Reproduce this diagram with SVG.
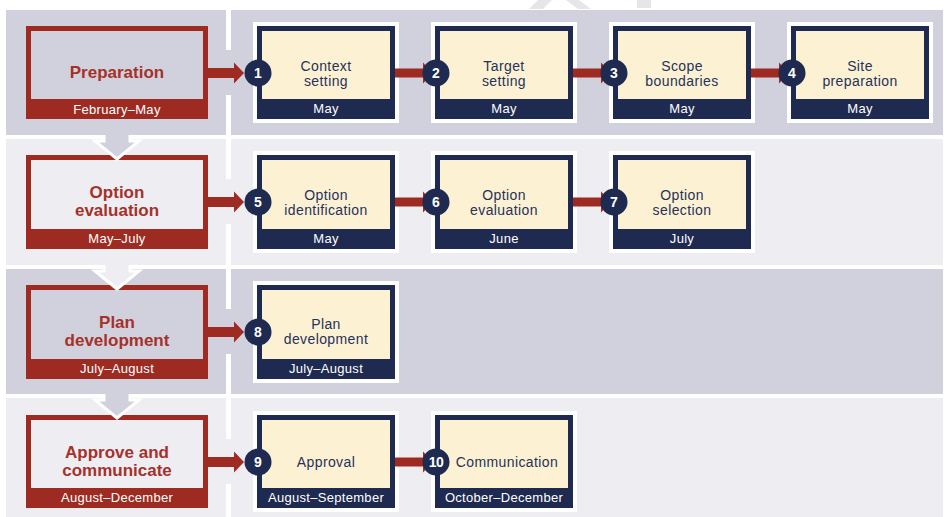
<svg xmlns="http://www.w3.org/2000/svg" width="944" height="517" viewBox="0 0 944 517">
  <style>
    .bandD { fill: #d1d1dd; }
    .bandL { fill: #ededf2; }
    .sep { fill: #ffffff; }
    .red { fill: #9d2b21; }
    .navy { fill: #1e2a50; }
    .cream { fill: #fcf2d3; }
    .frame { fill: #ffffff; }
    .ptitle { font-family: "Liberation Sans", Arial, sans-serif; font-size: 17px; font-weight: bold; fill: #a5312a; text-anchor: middle; }
    .pdate { font-family: "Liberation Sans", Arial, sans-serif; font-size: 13px; letter-spacing: 0.3px; fill: #ffffff; text-anchor: middle; }
    .slabel { font-family: "Liberation Sans", Arial, sans-serif; font-size: 14px; letter-spacing: 0.4px; fill: #27315a; text-anchor: middle; }
    .sdate { font-family: "Liberation Sans", Arial, sans-serif; font-size: 13px; letter-spacing: 0.3px; fill: #ffffff; text-anchor: middle; }
    .num { font-family: "Liberation Sans", Arial, sans-serif; font-size: 14px; font-weight: bold; fill: #ffffff; text-anchor: middle; }
    .arrow { fill: #9d2b21; }
    .chev-stroke { fill: none; stroke: #ffffff; stroke-width: 3; stroke-linejoin: miter; }
    .mark { fill: #e6e6ea; }
  </style>
  <defs>
    <!-- step arrow: shaft from 0 to 28, head tip at 38, centred on y=0 -->
    <path id="stepArrow" d="M0,-4.5 H28 V-10.5 L38,0 L28,10.5 V4.5 H0 Z"/>
    <!-- phase-to-step arrow -->
    <path id="phaseArrow" d="M0,-5 H26 V-10.5 L36,0 L26,10.5 V5 H0 Z"/>
  </defs>

  <rect width="944" height="517" fill="#ffffff"/>

  <!-- faint marks at the top edge -->
  <g id="topmarks">
    <polygon class="mark" points="538,0 552,0 543,9 529,9"/>
    <polygon class="mark" points="566,0 579,0 591,9 578,9"/>
    <polygon class="mark" points="637,0 651,0 651,8 637,8"/>
  </g>

  <!-- row bands -->
  <g id="bands">
    <rect class="bandD" x="6" y="10" width="937" height="125"/>
    <rect class="bandL" x="6" y="139" width="937" height="126"/>
    <rect class="bandD" x="6" y="269" width="937" height="125"/>
    <rect class="bandL" x="6" y="398" width="937" height="119"/>
    <!-- white separators between phase column and step column, open where the arrows pass -->
    <rect class="sep" x="226" y="10" width="5" height="40"/>
    <rect class="sep" x="226" y="95" width="5" height="40"/>
    <rect class="sep" x="226" y="139" width="5" height="40"/>
    <rect class="sep" x="226" y="224" width="5" height="41"/>
    <rect class="sep" x="226" y="269" width="5" height="40"/>
    <rect class="sep" x="226" y="354" width="5" height="40"/>
    <rect class="sep" x="226" y="398" width="5" height="41"/>
    <rect class="sep" x="226" y="484" width="5" height="33"/>
  </g>

  <!-- phase boxes -->
  <g id="phase-preparation">
    <rect class="red" x="26" y="26" width="182" height="93"/>
    <rect class="bandD" x="31" y="31" width="172" height="68"/>
    <text class="ptitle" x="117" y="78">Preparation</text>
    <text class="pdate" x="117" y="113.5">February–May</text>
  </g>
  <g id="phase-option-evaluation">
    <rect class="red" x="26" y="155" width="182" height="94"/>
    <rect class="bandL" x="31" y="160" width="172" height="69"/>
    <text class="ptitle" x="117" y="198">Option</text>
    <text class="ptitle" x="117" y="216">evaluation</text>
    <text class="pdate" x="117" y="243">May–July</text>
  </g>
  <g id="phase-plan-development">
    <rect class="red" x="26" y="285" width="182" height="94"/>
    <rect class="bandD" x="31" y="290" width="172" height="69"/>
    <text class="ptitle" x="117" y="328">Plan</text>
    <text class="ptitle" x="117" y="346">development</text>
    <text class="pdate" x="117" y="373">July–August</text>
  </g>
  <g id="phase-approve-communicate">
    <rect class="red" x="26" y="415" width="182" height="93"/>
    <rect class="bandL" x="31" y="420" width="172" height="68"/>
    <text class="ptitle" x="117" y="458">Approve and</text>
    <text class="ptitle" x="117" y="476">communicate</text>
    <text class="pdate" x="117" y="502">August–December</text>
  </g>

  <!-- down chevrons between phases -->
  <g id="chevrons">
    <path class="bandD" d="M104,133 V141 H95 L117,159 L139,141 H130 V133 Z"/>
    <path class="chev-stroke" d="M104,135 V141 H95 L117,159 L139,141 H130 V135"/>
    <path class="bandL" d="M104,263 V271 H95 L117,289 L139,271 H130 V263 Z"/>
    <path class="chev-stroke" d="M104,265 V271 H95 L117,289 L139,271 H130 V265"/>
    <path class="bandD" d="M104,392 V400 H95 L117,418 L139,400 H130 V392 Z"/>
    <path class="chev-stroke" d="M104,394 V400 H95 L117,418 L139,400 H130 V394"/>
  </g>

  <!-- step boxes -->
  <g id="step-1">
    <rect class="frame" x="253" y="22" width="146" height="101"/>
    <rect class="navy" x="257" y="26" width="138" height="93"/>
    <rect class="cream" x="262" y="31" width="128" height="68"/>
    <text class="slabel" x="326" y="71">Context</text>
    <text class="slabel" x="326" y="86">setting</text>
    <text class="sdate" x="326" y="113">May</text>
  </g>
  <g id="step-2">
    <rect class="frame" x="431" y="22" width="146" height="101"/>
    <rect class="navy" x="435" y="26" width="138" height="93"/>
    <rect class="cream" x="440" y="31" width="128" height="68"/>
    <text class="slabel" x="504" y="71">Target</text>
    <text class="slabel" x="504" y="86">setting</text>
    <text class="sdate" x="504" y="113">May</text>
  </g>
  <g id="step-3">
    <rect class="frame" x="609" y="22" width="146" height="101"/>
    <rect class="navy" x="613" y="26" width="138" height="93"/>
    <rect class="cream" x="618" y="31" width="128" height="68"/>
    <text class="slabel" x="682" y="71">Scope</text>
    <text class="slabel" x="682" y="86">boundaries</text>
    <text class="sdate" x="682" y="113">May</text>
  </g>
  <g id="step-4">
    <rect class="frame" x="787" y="22" width="146" height="101"/>
    <rect class="navy" x="791" y="26" width="138" height="93"/>
    <rect class="cream" x="796" y="31" width="128" height="68"/>
    <text class="slabel" x="860" y="71">Site</text>
    <text class="slabel" x="860" y="86">preparation</text>
    <text class="sdate" x="860" y="113">May</text>
  </g>
  <g id="step-5">
    <rect class="frame" x="253" y="151" width="146" height="102"/>
    <rect class="navy" x="257" y="155" width="138" height="94"/>
    <rect class="cream" x="262" y="160" width="128" height="69"/>
    <text class="slabel" x="326" y="200">Option</text>
    <text class="slabel" x="326" y="215">identification</text>
    <text class="sdate" x="326" y="243">May</text>
  </g>
  <g id="step-6">
    <rect class="frame" x="431" y="151" width="146" height="102"/>
    <rect class="navy" x="435" y="155" width="138" height="94"/>
    <rect class="cream" x="440" y="160" width="128" height="69"/>
    <text class="slabel" x="504" y="200">Option</text>
    <text class="slabel" x="504" y="215">evaluation</text>
    <text class="sdate" x="504" y="243">June</text>
  </g>
  <g id="step-7">
    <rect class="frame" x="609" y="151" width="146" height="102"/>
    <rect class="navy" x="613" y="155" width="138" height="94"/>
    <rect class="cream" x="618" y="160" width="128" height="69"/>
    <text class="slabel" x="682" y="200">Option</text>
    <text class="slabel" x="682" y="215">selection</text>
    <text class="sdate" x="682" y="243">July</text>
  </g>
  <g id="step-8">
    <rect class="frame" x="253" y="281" width="146" height="102"/>
    <rect class="navy" x="257" y="285" width="138" height="94"/>
    <rect class="cream" x="262" y="290" width="128" height="69"/>
    <text class="slabel" x="326" y="329">Plan</text>
    <text class="slabel" x="326" y="344">development</text>
    <text class="sdate" x="326" y="373">July–August</text>
  </g>
  <g id="step-9">
    <rect class="frame" x="253" y="411" width="146" height="101"/>
    <rect class="navy" x="257" y="415" width="138" height="93"/>
    <rect class="cream" x="262" y="420" width="128" height="68"/>
    <text class="slabel" x="326" y="467">Approval</text>
    <text class="sdate" x="326" y="502">August–September</text>
  </g>
  <g id="step-10">
    <rect class="frame" x="431" y="411" width="146" height="101"/>
    <rect class="navy" x="435" y="415" width="138" height="93"/>
    <rect class="cream" x="440" y="420" width="128" height="68"/>
    <text class="slabel" x="507" y="467">Communication</text>
    <text class="sdate" x="504" y="502">October–December</text>
  </g>

  <!-- connectors -->
  <g id="connectors" class="arrow">
    <use href="#phaseArrow" x="208" y="73"/>
    <use href="#stepArrow" x="395" y="73"/>
    <use href="#stepArrow" x="573" y="73"/>
    <use href="#stepArrow" x="751" y="73"/>
    <use href="#phaseArrow" x="208" y="202"/>
    <use href="#stepArrow" x="395" y="202"/>
    <use href="#stepArrow" x="573" y="202"/>
    <use href="#phaseArrow" x="208" y="332"/>
    <use href="#phaseArrow" x="208" y="462"/>
    <use href="#stepArrow" x="395" y="462"/>
  </g>

  <!-- numbered badges -->
  <g id="badges">
    <circle class="navy" cx="258" cy="73" r="13.5"/><text class="num" x="258" y="78">1</text>
    <circle class="navy" cx="436" cy="73" r="13.5"/><text class="num" x="436" y="78">2</text>
    <circle class="navy" cx="614" cy="73" r="13.5"/><text class="num" x="614" y="78">3</text>
    <circle class="navy" cx="792" cy="73" r="13.5"/><text class="num" x="792" y="78">4</text>
    <circle class="navy" cx="258" cy="202" r="13.5"/><text class="num" x="258" y="207">5</text>
    <circle class="navy" cx="436" cy="202" r="13.5"/><text class="num" x="436" y="207">6</text>
    <circle class="navy" cx="614" cy="202" r="13.5"/><text class="num" x="614" y="207">7</text>
    <circle class="navy" cx="258" cy="332" r="13.5"/><text class="num" x="258" y="337">8</text>
    <circle class="navy" cx="258" cy="462" r="13.5"/><text class="num" x="258" y="467">9</text>
    <circle class="navy" cx="436" cy="462" r="13.5"/><text class="num" x="436" y="467" letter-spacing="-0.5">10</text>
  </g>
</svg>
